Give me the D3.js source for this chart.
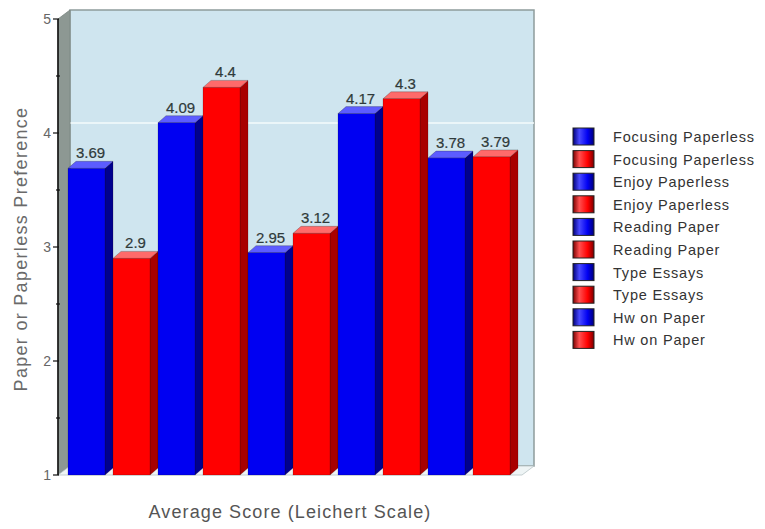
<!DOCTYPE html>
<html>
<head>
<meta charset="utf-8">
<script src="https://cdn.jsdelivr.net/npm/d3@7"></script>
<style>
  html, body { margin: 0; padding: 0; background: #fff; }
  svg { display: block; }
</style>
</head>
<body>
<svg id="chart" width="765" height="529"></svg>
<script>
// Survey results: average Likert score per question, paperless vs paper pairs
const seriesNames = [
  "Focusing Paperless", "Focusing Paperless",
  "Enjoy Paperless", "Enjoy Paperless",
  "Reading Paper", "Reading Paper",
  "Type Essays", "Type Essays",
  "Hw on Paper", "Hw on Paper"
];
const seriesValues = [3.69, 2.9, 4.09, 4.4, 2.95, 3.12, 4.17, 4.3, 3.78, 3.79];
const seriesKinds = ["blue", "red", "blue", "red", "blue", "red", "blue", "red", "blue", "red"];
const yTicks = [1, 2, 3, 4, 5];
const yMinorTicks = [1.5, 2.5, 3.5, 4.5];
const gridValues = [4];
const yTitle = "Paper or Paperless Preference";
const xTitle = "Average Score (Leichert Scale)";

const palette = {
  blue: { front: "#0000f2", side: "#00008e", top: "#5c5cff", light: "#4a4aff", dark: "#000078" },
  red:  { front: "#ff0000", side: "#a80000", top: "#ff6a6a", light: "#ff5050", dark: "#7a0000" }
};

const svg = d3.select("#chart");
const defs = svg.append("defs");

// 3D geometry
const axisX = 58;
const wall = { dx: 12, dy: -9 };
const bar = { dx: 8, dy: -7 };

const y = d3.scaleLinear().domain([1, 5]).range([475, 19]);
const x = d3.scaleBand().domain(d3.range(seriesValues.length)).range([68, 518]).padding(0);
const frontW = x.step() - bar.dx;
const rightX = 522;

const plotTop = y(5), plotBottom = y(1);

// Back wall
svg.append("polygon")
  .attr("points", [
    [axisX + wall.dx, plotTop + wall.dy],
    [rightX + wall.dx, plotTop + wall.dy],
    [rightX + wall.dx, plotBottom + wall.dy],
    [axisX + wall.dx, plotBottom + wall.dy]
  ].map(p => p.join(",")).join(" "))
  .attr("fill", "#cfe5ef")
  .attr("stroke", "#8f9c9c")
  .attr("stroke-width", 1.5);

// Grid lines on the back wall
svg.append("g").selectAll("line").data(gridValues).join("line")
  .attr("x1", axisX + wall.dx).attr("x2", rightX + wall.dx)
  .attr("y1", d => y(d) + wall.dy - 1).attr("y2", d => y(d) + wall.dy - 1)
  .attr("stroke", "#f4fbfd").attr("stroke-width", 1.5);

// Left side wall
svg.append("polygon")
  .attr("points", [
    [axisX, plotTop],
    [axisX + wall.dx, plotTop + wall.dy],
    [axisX + wall.dx, plotBottom + wall.dy],
    [axisX, plotBottom]
  ].map(p => p.join(",")).join(" "))
  .attr("fill", "#8d9893")
  .attr("stroke", "#7a8580")
  .attr("stroke-width", 0.8);

// Floor
svg.append("polygon")
  .attr("points", [
    [axisX, plotBottom],
    [axisX + wall.dx, plotBottom + wall.dy],
    [rightX + wall.dx, plotBottom + wall.dy],
    [rightX, plotBottom]
  ].map(p => p.join(",")).join(" "))
  .attr("fill", "#eef4f5")
  .attr("stroke", "#b8c4c6")
  .attr("stroke-width", 0.8);

// Bars (front, side, top faces)
const bars = svg.append("g").selectAll("g").data(seriesValues).join("g");
bars.each(function (v, i) {
  const g = d3.select(this);
  const c = palette[seriesKinds[i]];
  const x0 = x(i), x1 = x0 + frontW, yt = y(v), yb = y(1);
  g.append("polygon")
    .attr("points", [[x1, yt], [x1 + bar.dx, yt + bar.dy], [x1 + bar.dx, yb + bar.dy], [x1, yb]].map(p => p.join(",")).join(" "))
    .attr("fill", c.side).attr("stroke", "#300").attr("stroke-opacity", 0.35).attr("stroke-width", 0.6);
  g.append("polygon")
    .attr("points", [[x0, yt], [x0 + bar.dx, yt + bar.dy], [x1 + bar.dx, yt + bar.dy], [x1, yt]].map(p => p.join(",")).join(" "))
    .attr("fill", c.top).attr("stroke", "#222").attr("stroke-opacity", 0.45).attr("stroke-width", 0.6);
  g.append("rect")
    .attr("x", x0).attr("y", yt).attr("width", frontW).attr("height", yb - yt)
    .attr("fill", c.front).attr("stroke", "#111").attr("stroke-opacity", 0.3).attr("stroke-width", 0.6);
});

// Value labels
svg.append("g").selectAll("text").data(seriesValues).join("text")
  .attr("x", (d, i) => x(i) + (frontW + bar.dx) / 2)
  .attr("y", d => y(d) + bar.dy - 3)
  .attr("text-anchor", "middle")
  .attr("font-family", "Liberation Sans, Arial, sans-serif")
  .attr("font-size", 15)
  .attr("fill", "#2f3a3a")
  .attr("stroke", "#2f3a3a").attr("stroke-width", 0.2)
  .text(d => String(d));

// Y axis line and ticks
svg.append("line")
  .attr("x1", axisX).attr("x2", axisX).attr("y1", plotTop).attr("y2", plotBottom)
  .attr("stroke", "#111").attr("stroke-width", 1.6);
svg.append("g").selectAll("line").data(yTicks).join("line")
  .attr("x1", axisX - 5).attr("x2", axisX + 1)
  .attr("y1", d => y(d)).attr("y2", d => y(d))
  .attr("stroke", "#111").attr("stroke-width", 1.2);
svg.append("g").selectAll("line").data(yMinorTicks).join("line")
  .attr("x1", axisX - 2).attr("x2", axisX + 2)
  .attr("y1", d => y(d)).attr("y2", d => y(d))
  .attr("stroke", "#111").attr("stroke-width", 1.2);
svg.append("g").selectAll("text").data(yTicks).join("text")
  .attr("x", axisX - 7).attr("y", d => y(d))
  .attr("dy", "0.35em")
  .attr("text-anchor", "end")
  .attr("font-family", "Liberation Sans, Arial, sans-serif")
  .attr("font-size", 14)
  .attr("fill", "#666")
  .text(d => d);

// Axis titles
svg.append("text")
  .attr("transform", "translate(27,249) rotate(-90)")
  .attr("text-anchor", "middle")
  .attr("font-family", "Liberation Sans, Arial, sans-serif")
  .attr("font-size", 18)
  .attr("letter-spacing", 1.3)
  .attr("fill", "#6a6a6a")
  .text(yTitle);
svg.append("text")
  .attr("x", 290).attr("y", 518)
  .attr("text-anchor", "middle")
  .attr("font-family", "Liberation Sans, Arial, sans-serif")
  .attr("font-size", 18)
  .attr("letter-spacing", 1.1)
  .attr("fill", "#555")
  .text(xTitle);

// Legend swatch gradients
Object.entries(palette).forEach(([k, c]) => {
  const gr = defs.append("linearGradient").attr("id", "lg-" + k)
    .attr("x1", "0%").attr("x2", "100%").attr("y1", "0%").attr("y2", "0%");
  gr.append("stop").attr("offset", "0%").attr("stop-color", c.dark);
  gr.append("stop").attr("offset", "30%").attr("stop-color", c.light);
  gr.append("stop").attr("offset", "70%").attr("stop-color", c.front);
  gr.append("stop").attr("offset", "100%").attr("stop-color", c.dark);
});

const legend = svg.append("g").attr("transform", "translate(573,128)");
const rowH = 22.6;
const items = legend.selectAll("g").data(seriesNames).join("g")
  .attr("transform", (d, i) => `translate(0,${i * rowH})`);
items.append("rect")
  .attr("width", 21).attr("height", 17)
  .attr("fill", (d, i) => `url(#lg-${seriesKinds[i]})`)
  .attr("stroke", "#222").attr("stroke-width", 1);
items.append("text")
  .attr("x", 40).attr("y", 9)
  .attr("dy", "0.35em")
  .attr("font-family", "Liberation Sans, Arial, sans-serif")
  .attr("font-size", 14.5)
  .attr("letter-spacing", 0.8)
  .attr("fill", "#333")
  .text(d => d);
</script>
</body>
</html>
